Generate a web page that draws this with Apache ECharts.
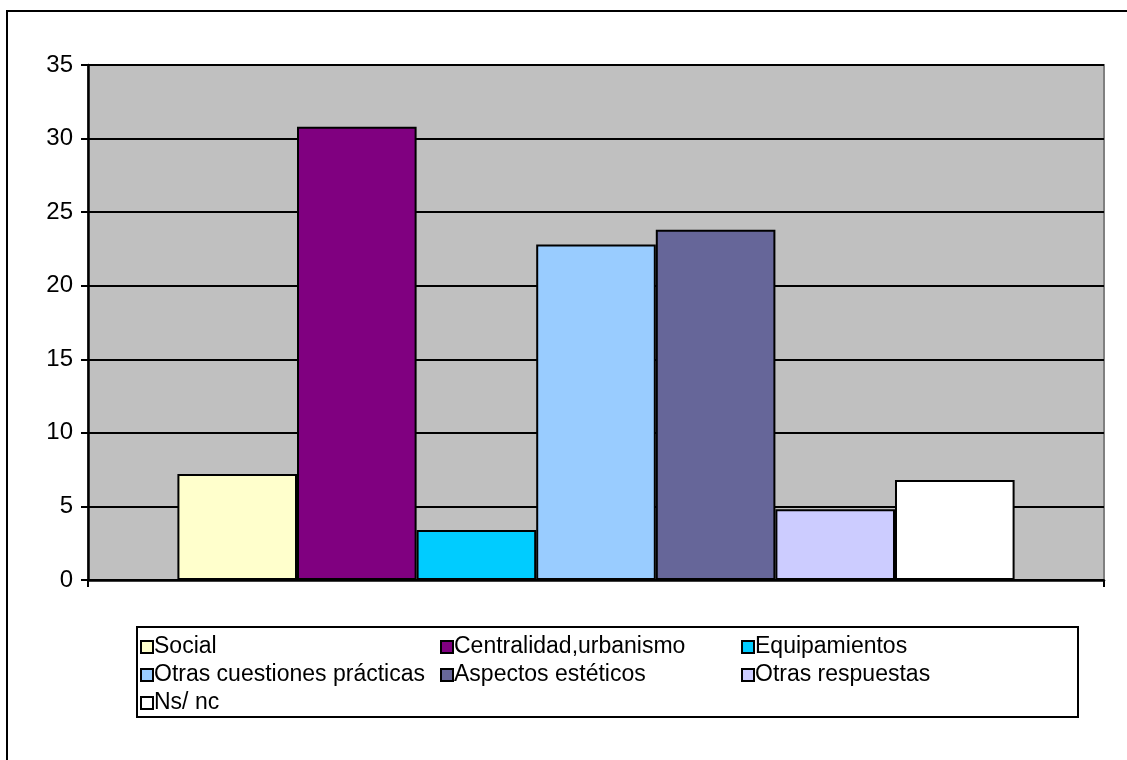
<!DOCTYPE html>
<html>
<head>
<meta charset="utf-8">
<script src="https://cdn.jsdelivr.net/npm/echarts@6/dist/echarts.min.js"></script>
<style>html,body{margin:0;padding:0;background:#fff;}#c{width:1127px;height:760px;}</style>
</head>
<body>
<div id="c"></div>
<script>
const seriesNames = ['Social', 'Centralidad,urbanismo', 'Equipamientos', 'Otras cuestiones prácticas', 'Aspectos estéticos', 'Otras respuestas', 'Ns/ nc'];
const seriesValues = [7.2, 30.8, 3.4, 22.8, 23.8, 4.8, 6.8];
const seriesColors = ['#FFFFCC', '#800080', '#00CCFF', '#99CCFF', '#666699', '#CCCCFF', '#FFFFFF'];
const categories = [''];
const yTicks = { min: 0, max: 35, interval: 5 };

const chart = echarts.init(document.getElementById('c'));
const font = 'Liberation Sans, Arial, sans-serif';
const series = seriesNames.map((n, i) => ({
  name: n,
  type: 'bar',
  data: [seriesValues[i]],
  barGap: '0%',
  barCategoryGap: '17.6%',
  itemStyle: { color: seriesColors[i], borderColor: '#000', borderWidth: 2 },
  emphasis: { disabled: true }
}));
const cols = [[0, 3, 6], [1, 4], [2, 5]];
const colX = [140, 440, 741];
const legends = cols.map((idxs, k) => ({
  orient: 'vertical',
  left: colX[k],
  top: 635,
  padding: 0,
  itemWidth: 12,
  itemHeight: 12,
  itemGap: 4,
  icon: 'rect',
  selectedMode: false,
  data: idxs.map(i => seriesNames[i]),
  itemStyle: { borderColor: '#000', borderWidth: 2 },
  textStyle: { fontFamily: font, fontSize: 23, color: '#000', padding: [0, 0, 0, -4], lineHeight: 24 }
}));
chart.setOption({
  animation: false,
  backgroundColor: '#fff',
  graphic: [
    { type: 'rect', shape: { x: 7, y: 11, width: 1140, height: 780 }, style: { fill: 'none', stroke: '#000', lineWidth: 2 }, z: -1 },
    { type: 'rect', shape: { x: 137, y: 627, width: 941, height: 90 }, style: { fill: '#fff', stroke: '#000', lineWidth: 2 }, z: -1 }
  ],
  grid: { left: 88, top: 65, right: 23, bottom: 180, show: true, backgroundColor: '#C0C0C0', borderColor: '#808080', borderWidth: 2 },
  legend: legends,
  xAxis: {
    type: 'category',
    data: categories,
    axisLine: { lineStyle: { color: '#000', width: 2.5 } },
    axisTick: { show: true, length: 7, lineStyle: { color: '#000', width: 2 } },
    axisLabel: { show: false }
  },
  yAxis: {
    type: 'value',
    min: yTicks.min, max: yTicks.max, interval: yTicks.interval,
    axisLine: { show: true, lineStyle: { color: '#000', width: 2.5 } },
    axisTick: { show: true, length: 7, lineStyle: { color: '#000', width: 2 } },
    axisLabel: { fontFamily: font, fontSize: 24, color: '#000', margin: 15 },
    splitLine: { show: true, lineStyle: { color: '#000', width: 2 } }
  },
  series: series
});
</script>
</body>
</html>
